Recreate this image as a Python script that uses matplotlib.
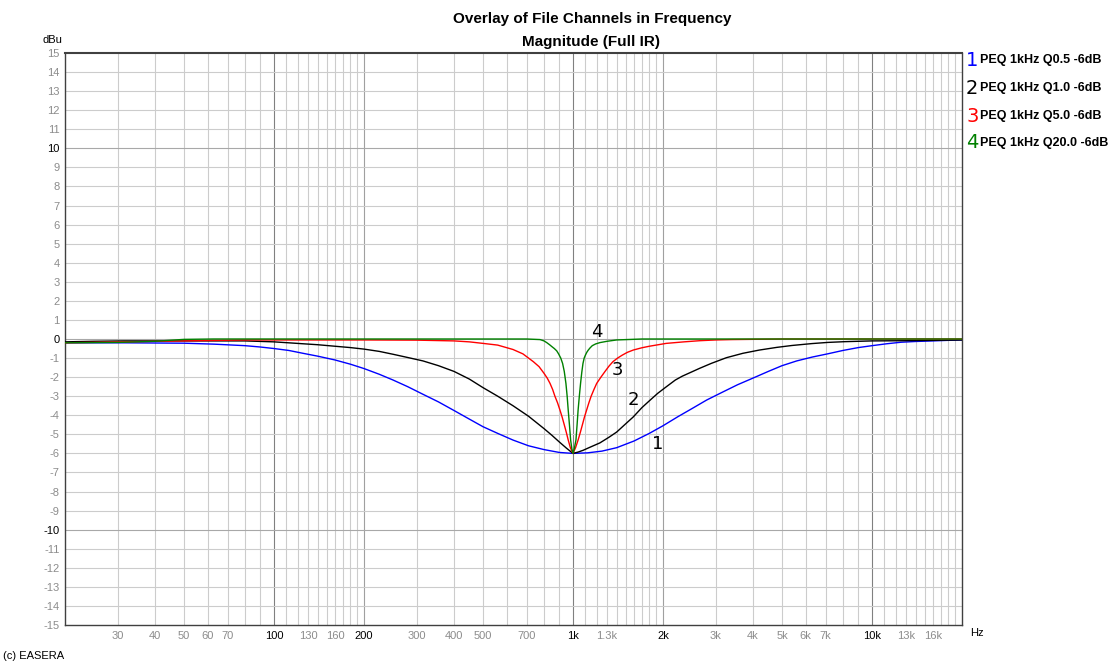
import matplotlib
matplotlib.use('Agg')
import matplotlib.pyplot as plt
from matplotlib.ticker import NullLocator

plt.rcParams['font.family'] = ['Liberation Sans', 'DejaVu Sans']

# values (Hz, dBu)
f_q05 = [20, 25, 31.5, 40, 50, 63, 80, 90, 100, 112, 125, 140, 160, 180, 200, 225, 250, 280, 315, 355, 400, 450,
         500, 560, 630, 710, 800, 900, 1000, 1120, 1250, 1400, 1600, 1800, 2000, 2240, 2500, 2800, 3150, 3550,
         4000, 4500, 5000, 5600, 6300, 7100, 8000, 9000, 10000, 11200, 12500, 14000, 16000, 18000, 20000]
db_q05 = [-0.2, -0.2, -0.2, -0.21, -0.22, -0.27, -0.35, -0.42, -0.5, -0.6, -0.75, -0.9, -1.1, -1.32, -1.55, -1.85, -2.15, -2.5, -2.9, -3.3, -3.75, -4.2,
          -4.6, -4.95, -5.3, -5.6, -5.8, -5.95, -6.0, -5.97, -5.88, -5.7, -5.35, -4.95, -4.55, -4.08, -3.65, -3.2, -2.8, -2.4,
          -2.05, -1.7, -1.4, -1.15, -0.95, -0.78, -0.6, -0.45, -0.35, -0.25, -0.17, -0.13, -0.1, -0.07, -0.05]

f_q1 = [20, 25, 31.5, 40, 50, 63, 80, 100, 112, 125, 140, 160, 180, 200, 225, 250, 280, 315, 355, 400, 450,
        500, 560, 630, 710, 800, 850, 900, 950, 1000, 1040, 1080, 1150, 1230, 1320, 1400, 1500, 1590, 1700, 1810,
        1920, 2050, 2200, 2320, 2500, 2650, 2900, 3260, 3700, 4200, 4800, 5400, 6300, 7100, 8100, 10000, 12900, 16000, 20000]
db_q1 = [-0.15, -0.12, -0.1, -0.1, -0.1, -0.1, -0.1, -0.15, -0.2, -0.25, -0.3, -0.38, -0.45, -0.53, -0.65, -0.8, -0.97, -1.15, -1.4, -1.7, -2.1,
         -2.55, -3.0, -3.5, -4.05, -4.7, -5.05, -5.4, -5.72, -6.0, -5.93, -5.84, -5.65, -5.45, -5.15, -4.88, -4.45, -4.09, -3.6, -3.21,
         -2.85, -2.51, -2.15, -1.95, -1.72, -1.54, -1.28, -0.98, -0.75, -0.58, -0.44, -0.34, -0.24, -0.18, -0.14, -0.1, -0.09, -0.07, -0.05]

f_q5 = [20, 31.5, 50, 80, 200, 300, 400, 450, 500, 560, 630, 680, 737, 770, 800, 820, 838, 855, 870, 888, 905, 920, 935, 950, 964, 980,
        1000, 1020, 1040, 1058, 1075, 1092, 1110, 1130, 1150, 1175, 1200, 1240, 1280, 1320, 1360, 1410, 1460, 1520, 1590,
        1700, 1800, 2050, 2350, 2650, 3000, 3400, 5000, 20000]
db_q5 = [-0.2, -0.15, -0.1, -0.05, -0.05, -0.06, -0.1, -0.15, -0.23, -0.32, -0.55, -0.78, -1.19, -1.45, -1.8, -2.05, -2.33, -2.65, -3.0, -3.35, -3.74, -4.1, -4.5, -4.9, -5.3, -5.7,
         -6.0, -5.7, -5.3, -4.9, -4.5, -4.1, -3.74, -3.35, -3.0, -2.65, -2.33, -2.0, -1.7, -1.42, -1.19, -1.0, -0.85, -0.7, -0.58,
         -0.46, -0.38, -0.23, -0.15, -0.09, -0.05, -0.03, 0.0, 0.0]

f_q20 = [20, 30, 40, 50, 63, 700, 776, 800, 817, 835, 850, 866, 882, 895, 910, 923, 935, 947, 956, 964, 973, 982, 991,
         1000, 1010, 1023, 1032, 1040, 1050, 1060, 1070, 1080, 1090, 1100, 1112, 1125, 1140, 1160, 1190, 1230, 1300,
         1400, 1700, 20000]
db_q20 = [-0.2, -0.18, -0.12, -0.02, 0.0, 0.0, -0.03, -0.1, -0.19, -0.3, -0.4, -0.5, -0.62, -0.78, -1.0, -1.28, -1.7, -2.33, -3.0, -3.74, -4.5, -5.3, -5.75,
          -6.0, -5.75, -5.3, -4.5, -3.74, -3.0, -2.33, -1.75, -1.28, -1.0, -0.85, -0.7, -0.58, -0.47, -0.35, -0.26, -0.19, -0.12,
          -0.05, 0.0, 0.0]

names = ['PEQ 1kHz Q0.5 -6dB', 'PEQ 1kHz Q1.0 -6dB', 'PEQ 1kHz Q5.0 -6dB', 'PEQ 1kHz Q20.0 -6dB']
colors = ['#0000ff', '#000000', '#ff0000', '#008000']

xtick_vals = [30, 40, 50, 60, 70, 100, 130, 160, 200, 300, 400, 500, 700, 1000, 1300, 2000,
              3000, 4000, 5000, 6000, 7000, 10000, 13000, 16000]
xtick_labels = ['30', '40', '50', '60', '70', '100', '130', '160', '200', '300', '400', '500', '700', '1k', '1.3k', '2k',
                '3k', '4k', '5k', '6k', '7k', '10k', '13k', '16k']
ytick_vals = list(range(-15, 16))

W, H = 1115, 661
fig = plt.figure(figsize=(W / 100, H / 100), dpi=100)
ax = fig.add_axes([65 / W, 1 - 625 / H, 897 / W, 572 / H])
ax.set_xscale('log')
ax.set_xlim(20, 20000)
ax.set_ylim(-15, 15)

# grid
grid_x = (list(range(30, 100, 10)) + list(range(100, 200, 10)) + list(range(200, 1000, 100))
          + list(range(1000, 2000, 100)) + list(range(2000, 10000, 1000)) + list(range(10000, 20000, 1000)))
for gx in grid_x:
    if gx in (100, 1000, 10000):
        c = '#808080'
    elif gx in (200, 2000):
        c = '#a0a0a0'
    else:
        c = '#cccccc'
    ax.axvline(gx, color=c, lw=0.8, zorder=0)
for gy in range(-14, 15):
    c = '#a8a8a8' if gy in (-10, 0, 10) else '#cccccc'
    ax.axhline(gy, color=c, lw=0.8, zorder=0)

ax.plot(f_q05, db_q05, color=colors[0], lw=1.0, zorder=2)
ax.plot(f_q1, db_q1, color=colors[1], lw=1.0, zorder=3)
ax.plot(f_q5, db_q5, color=colors[2], lw=1.0, zorder=4)
ax.plot(f_q20, db_q20, color=colors[3], lw=1.0, zorder=5)

# curve numbers
ax.text(1197, 0.38, '4', fontsize=13, family='DejaVu Sans', ha='center', va='center')
ax.text(1413, -1.63, '3', fontsize=13, family='DejaVu Sans', ha='center', va='center')
ax.text(1586, -3.21, '2', fontsize=13, family='DejaVu Sans', ha='center', va='center')
ax.text(1923, -5.49, '1', fontsize=13, family='DejaVu Sans', ha='center', va='center')

ax.xaxis.set_minor_locator(NullLocator())
ax.set_xticks(xtick_vals)
ax.set_xticklabels(xtick_labels)
ax.set_yticks(ytick_vals)
ax.set_yticklabels([str(v) for v in ytick_vals])
ax.tick_params(length=0, labelsize=8, pad=4)
for lbl, v in zip(ax.get_xticklabels(), xtick_vals):
    lbl.set_color('black' if v in (100, 200, 1000, 2000, 10000) else '#8c8c8c')
for lbl, v in zip(ax.get_yticklabels(), ytick_vals):
    lbl.set_color('black' if v in (-10, 0, 10) else '#8c8c8c')

for s in ax.spines.values():
    s.set_color('#404040')
    s.set_linewidth(1.0)
ax.spines['top'].set_linewidth(1.5)

def px(x, y):
    return x / W, 1 - y / H

fig.text(*px(592, 19), 'Overlay of File Channels in Frequency', fontsize=11, fontweight='bold', ha='center', va='center')
fig.text(*px(591, 42), 'Magnitude (Full IR)', fontsize=11, fontweight='bold', ha='center', va='center')
fig.text(*px(52, 40), 'dBu', fontsize=8, ha='center', va='center')
fig.text(*px(970, 633), 'Hz', fontsize=8, ha='left', va='center')
fig.text(*px(3, 656), '(c) EASERA', fontsize=8, ha='left', va='center')

# legend on the right
rows_y = [60, 88, 116, 143]
for i in range(4):
    fig.text(*px(966, rows_y[i]), str(i + 1), fontsize=14, family='DejaVu Sans', color=colors[i], ha='left', va='center')
    fig.text(*px(980, rows_y[i]), names[i], fontsize=9, fontweight='bold', ha='left', va='center')

fig.savefig('out.png', dpi=100)
